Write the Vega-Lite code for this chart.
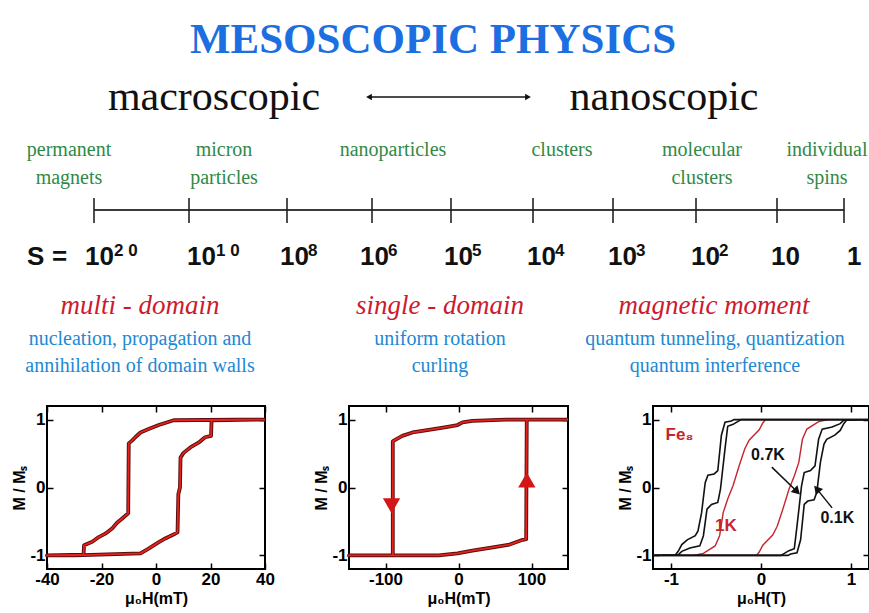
{
  "$schema": "https://vega.github.io/schema/vega-lite/v6.json",
  "padding": {"left": 10, "top": 0, "right": 0, "bottom": 0},
  "background": "white",
  "spacing": 0,
  "datasets": {
    "toptext": [
      {"g": "title", "t": "MESOSCOPIC PHYSICS", "x": 431, "y": 53},
      {"g": "scale", "t": "macroscopic", "x": 212, "y": 110},
      {"g": "scale", "t": "nanoscopic", "x": 662, "y": 110},
      {"g": "green", "t": "permanent", "x": 67, "y": 156},
      {"g": "green", "t": "magnets", "x": 67, "y": 184},
      {"g": "green", "t": "micron", "x": 222, "y": 156},
      {"g": "green", "t": "particles", "x": 222, "y": 184},
      {"g": "green", "t": "nanoparticles", "x": 391, "y": 156},
      {"g": "green", "t": "clusters", "x": 560, "y": 156},
      {"g": "green", "t": "molecular", "x": 700, "y": 156},
      {"g": "green", "t": "clusters", "x": 700, "y": 184},
      {"g": "green", "t": "individual", "x": 825, "y": 156},
      {"g": "green", "t": "spins", "x": 825, "y": 184},
      {"g": "S", "t": "S", "x": 25, "y": 265},
      {"g": "S", "t": "=", "x": 50, "y": 265},
      {"g": "S", "t": "10", "x": 83, "y": 265},
      {"g": "S", "t": "10", "x": 185, "y": 265},
      {"g": "S", "t": "10", "x": 278, "y": 265},
      {"g": "S", "t": "10", "x": 358, "y": 265},
      {"g": "S", "t": "10", "x": 442, "y": 265},
      {"g": "S", "t": "10", "x": 525, "y": 265},
      {"g": "S", "t": "10", "x": 606, "y": 265},
      {"g": "S", "t": "10", "x": 689, "y": 265},
      {"g": "S", "t": "10", "x": 769, "y": 265},
      {"g": "S", "t": "1", "x": 845, "y": 265},
      {"g": "exp", "t": "2 0", "x": 112, "y": 256},
      {"g": "exp", "t": "1 0", "x": 214, "y": 256},
      {"g": "exp", "t": "8", "x": 306, "y": 256},
      {"g": "exp", "t": "6", "x": 386, "y": 256},
      {"g": "exp", "t": "5", "x": 470, "y": 256},
      {"g": "exp", "t": "4", "x": 553, "y": 256},
      {"g": "exp", "t": "3", "x": 634, "y": 256},
      {"g": "exp", "t": "2", "x": 717, "y": 256},
      {"g": "red", "t": "multi - domain", "x": 138, "y": 314},
      {"g": "red", "t": "single - domain", "x": 438, "y": 314},
      {"g": "red", "t": "magnetic moment", "x": 712, "y": 314},
      {"g": "blue", "t": "nucleation, propagation and", "x": 138, "y": 345},
      {"g": "blue", "t": "uniform rotation", "x": 438, "y": 345},
      {"g": "blue", "t": "quantum tunneling, quantization", "x": 713, "y": 345},
      {"g": "blue", "t": "annihilation of domain walls", "x": 138, "y": 372},
      {"g": "blue", "t": "curling", "x": 438, "y": 372},
      {"g": "blue", "t": "quantum interference", "x": 713, "y": 372}
    ],
    "sline": [{"x": 92, "x2": 842, "y": 210}],
    "sticks": [
      {"x": 92, "y": 198, "y2": 223}, {"x": 187, "y": 198, "y2": 223},
      {"x": 285, "y": 198, "y2": 223}, {"x": 370, "y": 198, "y2": 223},
      {"x": 449, "y": 198, "y2": 223}, {"x": 531, "y": 198, "y2": 223},
      {"x": 611, "y": 198, "y2": 223}, {"x": 694, "y": 198, "y2": 223},
      {"x": 775, "y": 198, "y2": 223}, {"x": 842, "y": 198, "y2": 223}
    ],
    "arrow": [{"x": 366, "x2": 527, "y": 97}],
    "arrowhead": [{"x": 367, "y": 97, "d": "l"}, {"x": 526, "y": 97, "d": "r"}],
    "p1": [
      {"i": 1, "h": 40, "m": 1}, {"i": 2, "h": 30, "m": 1.0}, {"i": 3, "h": 6.5, "m": 0.99},
      {"i": 4, "h": 1, "m": 0.92}, {"i": 5, "h": -2.7, "m": 0.86}, {"i": 6, "h": -5.7, "m": 0.81},
      {"i": 7, "h": -7.6, "m": 0.74}, {"i": 8, "h": -8.8, "m": 0.69}, {"i": 9, "h": -10, "m": 0.65},
      {"i": 10, "h": -10.2, "m": -0.38}, {"i": 11, "h": -12.5, "m": -0.46}, {"i": 12, "h": -14.3, "m": -0.52},
      {"i": 13, "h": -16, "m": -0.6}, {"i": 14, "h": -18.6, "m": -0.68}, {"i": 15, "h": -21, "m": -0.73},
      {"i": 16, "h": -23.4, "m": -0.8}, {"i": 17, "h": -26.4, "m": -0.85}, {"i": 18, "h": -26.6, "m": -0.99},
      {"i": 19, "h": -40, "m": -1}, {"i": 20, "h": -30, "m": -1}, {"i": 21, "h": -5.7, "m": -0.97},
      {"i": 22, "h": -2.7, "m": -0.9}, {"i": 23, "h": 0, "m": -0.83}, {"i": 24, "h": 3.4, "m": -0.75},
      {"i": 25, "h": 7, "m": -0.68}, {"i": 26, "h": 7.9, "m": -0.66}, {"i": 27, "h": 8.2, "m": -0.1},
      {"i": 28, "h": 8.8, "m": 0.0}, {"i": 29, "h": 9.0, "m": 0.44}, {"i": 30, "h": 10.1, "m": 0.51},
      {"i": 31, "h": 12.6, "m": 0.59}, {"i": 32, "h": 15.6, "m": 0.66}, {"i": 33, "h": 18, "m": 0.74},
      {"i": 34, "h": 20.2, "m": 0.76}, {"i": 35, "h": 20.4, "m": 0.99}, {"i": 36, "h": 40, "m": 1}
    ],
    "p2": [
      {"i": 1, "h": 150, "m": 1}, {"i": 2, "h": 65, "m": 1}, {"i": 3, "h": 19, "m": 0.98},
      {"i": 4, "h": 5.5, "m": 0.96}, {"i": 5, "h": -1.4, "m": 0.92}, {"i": 6, "h": -17, "m": 0.89},
      {"i": 7, "h": -45, "m": 0.84}, {"i": 8, "h": -63, "m": 0.81}, {"i": 9, "h": -77, "m": 0.76},
      {"i": 10, "h": -88.5, "m": 0.69}, {"i": 11, "h": -90, "m": 0.68}, {"i": 12, "h": -90, "m": -1},
      {"i": 13, "h": -150, "m": -1}, {"i": 14, "h": -27, "m": -1}, {"i": 15, "h": -1.4, "m": -0.97},
      {"i": 16, "h": 19, "m": -0.93}, {"i": 17, "h": 47, "m": -0.88}, {"i": 18, "h": 70, "m": -0.84},
      {"i": 19, "h": 88, "m": -0.77}, {"i": 20, "h": 92.7, "m": -0.76}, {"i": 21, "h": 93.5, "m": 1},
      {"i": 22, "h": 150, "m": 1}
    ],
    "p2tri": [{"h": -91.7, "m": -0.27, "d": "down"}, {"h": 93.6, "m": 0.11, "d": "up"}],
    "p3": [
      {"T": "0.1K", "i": 1, "h": 1.2, "m": 1}, {"T": "0.1K", "i": 2, "h": -0.3, "m": 1},
      {"T": "0.1K", "i": 3, "h": -0.33, "m": 0.98}, {"T": "0.1K", "i": 4, "h": -0.4, "m": 0.96},
      {"T": "0.1K", "i": 5, "h": -0.44, "m": 0.77}, {"T": "0.1K", "i": 6, "h": -0.48, "m": 0.25},
      {"T": "0.1K", "i": 7, "h": -0.52, "m": 0.2}, {"T": "0.1K", "i": 8, "h": -0.59, "m": 0.18},
      {"T": "0.1K", "i": 9, "h": -0.62, "m": 0.07}, {"T": "0.1K", "i": 10, "h": -0.66, "m": -0.37},
      {"T": "0.1K", "i": 11, "h": -0.7, "m": -0.64}, {"T": "0.1K", "i": 12, "h": -0.73, "m": -0.71},
      {"T": "0.1K", "i": 13, "h": -0.82, "m": -0.77}, {"T": "0.1K", "i": 14, "h": -0.88, "m": -0.84},
      {"T": "0.1K", "i": 15, "h": -0.92, "m": -0.94}, {"T": "0.1K", "i": 16, "h": -0.95, "m": -0.99},
      {"T": "0.1K", "i": 17, "h": -1.2, "m": -1}, {"T": "0.1K", "i": 18, "h": 0.3, "m": -1},
      {"T": "0.1K", "i": 19, "h": 0.33, "m": -0.98}, {"T": "0.1K", "i": 20, "h": 0.4, "m": -0.96},
      {"T": "0.1K", "i": 21, "h": 0.44, "m": -0.77}, {"T": "0.1K", "i": 22, "h": 0.48, "m": -0.25},
      {"T": "0.1K", "i": 23, "h": 0.52, "m": -0.2}, {"T": "0.1K", "i": 24, "h": 0.59, "m": -0.18},
      {"T": "0.1K", "i": 25, "h": 0.62, "m": -0.07}, {"T": "0.1K", "i": 26, "h": 0.66, "m": 0.37},
      {"T": "0.1K", "i": 27, "h": 0.7, "m": 0.64}, {"T": "0.1K", "i": 28, "h": 0.73, "m": 0.71},
      {"T": "0.1K", "i": 29, "h": 0.82, "m": 0.77}, {"T": "0.1K", "i": 30, "h": 0.88, "m": 0.84},
      {"T": "0.1K", "i": 31, "h": 0.92, "m": 0.94}, {"T": "0.1K", "i": 32, "h": 0.95, "m": 0.99},
      {"T": "0.1K", "i": 33, "h": 1.2, "m": 1},
      {"T": "0.7K", "i": 1, "h": 1.2, "m": 1}, {"T": "0.7K", "i": 2, "h": -0.22, "m": 1},
      {"T": "0.7K", "i": 3, "h": -0.26, "m": 0.97}, {"T": "0.7K", "i": 4, "h": -0.31, "m": 0.93},
      {"T": "0.7K", "i": 5, "h": -0.37, "m": 0.9}, {"T": "0.7K", "i": 6, "h": -0.4, "m": 0.57},
      {"T": "0.7K", "i": 7, "h": -0.45, "m": -0.02}, {"T": "0.7K", "i": 8, "h": -0.48, "m": -0.22},
      {"T": "0.7K", "i": 9, "h": -0.55, "m": -0.25}, {"T": "0.7K", "i": 10, "h": -0.6, "m": -0.32},
      {"T": "0.7K", "i": 11, "h": -0.64, "m": -0.71}, {"T": "0.7K", "i": 12, "h": -0.68, "m": -0.86},
      {"T": "0.7K", "i": 13, "h": -0.79, "m": -0.89}, {"T": "0.7K", "i": 14, "h": -0.88, "m": -0.94},
      {"T": "0.7K", "i": 15, "h": -0.92, "m": -0.99}, {"T": "0.7K", "i": 16, "h": -1.2, "m": -1},
      {"T": "0.7K", "i": 17, "h": 0.22, "m": -1}, {"T": "0.7K", "i": 18, "h": 0.26, "m": -0.97},
      {"T": "0.7K", "i": 19, "h": 0.31, "m": -0.93}, {"T": "0.7K", "i": 20, "h": 0.37, "m": -0.9},
      {"T": "0.7K", "i": 21, "h": 0.4, "m": -0.57}, {"T": "0.7K", "i": 22, "h": 0.45, "m": 0.02},
      {"T": "0.7K", "i": 23, "h": 0.48, "m": 0.22}, {"T": "0.7K", "i": 24, "h": 0.55, "m": 0.25},
      {"T": "0.7K", "i": 25, "h": 0.6, "m": 0.32}, {"T": "0.7K", "i": 26, "h": 0.64, "m": 0.71},
      {"T": "0.7K", "i": 27, "h": 0.68, "m": 0.86}, {"T": "0.7K", "i": 28, "h": 0.79, "m": 0.89},
      {"T": "0.7K", "i": 29, "h": 0.88, "m": 0.94}, {"T": "0.7K", "i": 30, "h": 0.92, "m": 0.99},
      {"T": "0.7K", "i": 31, "h": 1.2, "m": 1},
      {"T": "1K", "i": 1, "h": 1.2, "m": 1}, {"T": "1K", "i": 2, "h": 0.05, "m": 1},
      {"T": "1K", "i": 3, "h": 0.02, "m": 0.95}, {"T": "1K", "i": 4, "h": -0.02, "m": 0.85},
      {"T": "1K", "i": 5, "h": -0.13, "m": 0.7}, {"T": "1K", "i": 6, "h": -0.18, "m": 0.57},
      {"T": "1K", "i": 7, "h": -0.24, "m": 0.33}, {"T": "1K", "i": 8, "h": -0.31, "m": 0.03},
      {"T": "1K", "i": 9, "h": -0.37, "m": -0.17}, {"T": "1K", "i": 10, "h": -0.42, "m": -0.37},
      {"T": "1K", "i": 11, "h": -0.46, "m": -0.71}, {"T": "1K", "i": 12, "h": -0.51, "m": -0.86},
      {"T": "1K", "i": 13, "h": -0.64, "m": -0.97}, {"T": "1K", "i": 14, "h": -0.75, "m": -1},
      {"T": "1K", "i": 15, "h": -1.2, "m": -1}, {"T": "1K", "i": 16, "h": -0.05, "m": -1},
      {"T": "1K", "i": 17, "h": -0.02, "m": -0.95}, {"T": "1K", "i": 18, "h": 0.02, "m": -0.85},
      {"T": "1K", "i": 19, "h": 0.13, "m": -0.7}, {"T": "1K", "i": 20, "h": 0.18, "m": -0.57},
      {"T": "1K", "i": 21, "h": 0.24, "m": -0.33}, {"T": "1K", "i": 22, "h": 0.31, "m": -0.03},
      {"T": "1K", "i": 23, "h": 0.37, "m": 0.17}, {"T": "1K", "i": 24, "h": 0.42, "m": 0.37},
      {"T": "1K", "i": 25, "h": 0.46, "m": 0.71}, {"T": "1K", "i": 26, "h": 0.51, "m": 0.86},
      {"T": "1K", "i": 27, "h": 0.64, "m": 0.97}, {"T": "1K", "i": 28, "h": 0.75, "m": 1},
      {"T": "1K", "i": 29, "h": 1.2, "m": 1}
    ],
    "p3txt": [
      {"t": "Fe₈", "h": -1.06, "m": 0.77, "c": "red"},
      {"t": "1K", "h": -0.51, "m": -0.57, "c": "red"},
      {"t": "0.7K", "h": -0.11, "m": 0.48, "c": "black"},
      {"t": "0.1K", "h": 0.66, "m": -0.45, "c": "black"}
    ],
    "p3arr": [
      {"a": "0.7K", "h": 0.12, "m": 0.3, "h2": 0.4, "m2": -0.06},
      {"a": "0.1K", "h": 0.79, "m": -0.3, "h2": 0.62, "m2": -0.02}
    ]
  },
  "vconcat": [
    {
      "width": 824,
      "height": 404,
      "view": {"stroke": null},
      "encoding": {
        "x": {"field": "x", "type": "quantitative", "scale": {"domain": [45, 869], "nice": false, "zero": false}, "axis": null},
        "y": {"field": "y", "type": "quantitative", "scale": {"domain": [0, 404], "reverse": true, "nice": false, "zero": false}, "axis": null}
      },
      "layer": [
        {"data": {"name": "sline"}, "mark": {"type": "rule", "color": "#3a3a3a", "strokeWidth": 2}, "encoding": {"x2": {"field": "x2"}}},
        {"data": {"name": "sticks"}, "mark": {"type": "rule", "color": "#222222", "strokeWidth": 1.6}, "encoding": {"y2": {"field": "y2"}}},
        {"data": {"name": "arrow"}, "mark": {"type": "rule", "color": "#111111", "strokeWidth": 1.5}, "encoding": {"x2": {"field": "x2"}}},
        {"data": {"name": "arrowhead"}, "transform": [{"filter": "datum.d === 'l'"}],
         "mark": {"type": "point", "shape": "triangle-left", "filled": true, "color": "#111111", "size": 45, "opacity": 1}},
        {"data": {"name": "arrowhead"}, "transform": [{"filter": "datum.d === 'r'"}],
         "mark": {"type": "point", "shape": "triangle-right", "filled": true, "color": "#111111", "size": 45, "opacity": 1}},
        {"data": {"name": "toptext"}, "transform": [{"filter": "datum.g === 'title'"}],
         "mark": {"type": "text", "font": "Liberation Serif", "fontWeight": "bold", "fontSize": 43, "color": "#1b6fe0", "align": "center", "baseline": "alphabetic"},
         "encoding": {"text": {"field": "t"}}},
        {"data": {"name": "toptext"}, "transform": [{"filter": "datum.g === 'scale'"}],
         "mark": {"type": "text", "font": "Liberation Serif", "fontSize": 42, "color": "#111111", "align": "center", "baseline": "alphabetic"},
         "encoding": {"text": {"field": "t"}}},
        {"data": {"name": "toptext"}, "transform": [{"filter": "datum.g === 'green'"}],
         "mark": {"type": "text", "font": "Liberation Serif", "fontSize": 20, "color": "#2f8a46", "align": "center", "baseline": "alphabetic"},
         "encoding": {"text": {"field": "t"}}},
        {"data": {"name": "toptext"}, "transform": [{"filter": "datum.g === 'S'"}],
         "mark": {"type": "text", "font": "Liberation Sans", "fontWeight": "bold", "fontSize": 26, "color": "#111111", "align": "left", "baseline": "alphabetic"},
         "encoding": {"text": {"field": "t"}}},
        {"data": {"name": "toptext"}, "transform": [{"filter": "datum.g === 'exp'"}],
         "mark": {"type": "text", "font": "Liberation Sans", "fontWeight": "bold", "fontSize": 17, "color": "#111111", "align": "left", "baseline": "alphabetic"},
         "encoding": {"text": {"field": "t"}}},
        {"data": {"name": "toptext"}, "transform": [{"filter": "datum.g === 'red'"}],
         "mark": {"type": "text", "font": "Liberation Serif", "fontStyle": "italic", "fontSize": 27, "color": "#cc1a2e", "align": "center", "baseline": "alphabetic"},
         "encoding": {"text": {"field": "t"}}},
        {"data": {"name": "toptext"}, "transform": [{"filter": "datum.g === 'blue'"}],
         "mark": {"type": "text", "font": "Liberation Serif", "fontSize": 20, "color": "#2188d4", "align": "center", "baseline": "alphabetic"},
         "encoding": {"text": {"field": "t"}}}
      ]
    },
    {
      "spacing": 45,
      "hconcat": [
        {
          "spacing": 36,
          "hconcat": [
            {
              "width": 218,
              "height": 163,
              "view": {"stroke": "black", "strokeWidth": 2},
              "data": {"name": "p1"},
              "encoding": {"order": {"field": "i", "type": "quantitative"}},
              "layer": [
                {"mark": {"type": "line", "color": "#5a0d0d", "strokeWidth": 3.8, "strokeJoin": "round"},
                 "encoding": {
                   "x": {"field": "h", "type": "quantitative", "scale": {"domain": [-40, 40], "nice": false, "zero": false},
                         "axis": {"orient": "bottom", "values": [-40, -20, 0, 20, 40], "title": "μ₀H(mT)", "labelPadding": 8, "titlePadding": 3, "labelExpr": "datum.value < 0 ? '-' + (-datum.value) : '' + datum.value"}},
                   "y": {"field": "m", "type": "quantitative", "scale": {"domain": [-1.2, 1.2], "nice": false, "zero": false},
                         "axis": {"orient": "left", "values": [-1, 0, 1], "title": "M / Mₛ", "labelPadding": 8, "titlePadding": 2, "labelExpr": "datum.value < 0 ? '-' + (-datum.value) : '' + datum.value"}}
                 }},
                {"mark": {"type": "line", "color": "#e4231e", "strokeWidth": 1.8, "strokeJoin": "round"},
                 "encoding": {
                   "x": {"field": "h", "type": "quantitative", "scale": {"domain": [-40, 40], "nice": false, "zero": false},
                         "axis": {"orient": "top", "values": [-40, -20, 0, 20, 40], "labels": false, "title": null}},
                   "y": {"field": "m", "type": "quantitative", "scale": {"domain": [-1.2, 1.2], "nice": false, "zero": false},
                         "axis": {"orient": "right", "values": [-1, 0, 1], "labels": false, "title": null}}
                 }}
              ],
              "resolve": {"axis": {"x": "independent", "y": "independent"}}
            },
            {
              "width": 219,
              "height": 163,
              "view": {"stroke": "black", "strokeWidth": 2},
              "layer": [
                {"data": {"name": "p2"}, "mark": {"type": "line", "color": "#5a0d0d", "strokeWidth": 3.8, "strokeJoin": "round"},
                 "encoding": {
                   "order": {"field": "i", "type": "quantitative"},
                   "x": {"field": "h", "type": "quantitative", "scale": {"domain": [-150, 150], "nice": false, "zero": false},
                         "axis": {"orient": "bottom", "values": [-100, 0, 100], "title": "μ₀H(mT)", "labelPadding": 8, "titlePadding": 3, "labelExpr": "datum.value < 0 ? '-' + (-datum.value) : '' + datum.value"}},
                   "y": {"field": "m", "type": "quantitative", "scale": {"domain": [-1.2, 1.2], "nice": false, "zero": false},
                         "axis": {"orient": "left", "values": [-1, 0, 1], "title": "M / Mₛ", "labelPadding": 8, "titlePadding": 2, "labelExpr": "datum.value < 0 ? '-' + (-datum.value) : '' + datum.value"}}
                 }},
                {"data": {"name": "p2"}, "mark": {"type": "line", "color": "#e4231e", "strokeWidth": 1.8, "strokeJoin": "round"},
                 "encoding": {
                   "order": {"field": "i", "type": "quantitative"},
                   "x": {"field": "h", "type": "quantitative", "scale": {"domain": [-150, 150], "nice": false, "zero": false},
                         "axis": {"orient": "top", "values": [-100, 0, 100], "labels": false, "title": null}},
                   "y": {"field": "m", "type": "quantitative", "scale": {"domain": [-1.2, 1.2], "nice": false, "zero": false},
                         "axis": {"orient": "right", "values": [-1, 0, 1], "labels": false, "title": null}}
                 }},
                {"data": {"name": "p2tri"}, "transform": [{"filter": "datum.d === 'down'"}],
                 "mark": {"type": "point", "shape": "triangle-down", "filled": true, "color": "#d41616", "size": 300, "opacity": 1},
                 "encoding": {
                   "x": {"field": "h", "type": "quantitative", "scale": {"domain": [-150, 150], "nice": false, "zero": false}, "axis": null},
                   "y": {"field": "m", "type": "quantitative", "scale": {"domain": [-1.2, 1.2], "nice": false, "zero": false}, "axis": null}
                 }},
                {"data": {"name": "p2tri"}, "transform": [{"filter": "datum.d === 'up'"}],
                 "mark": {"type": "point", "shape": "triangle-up", "filled": true, "color": "#d41616", "size": 300, "opacity": 1},
                 "encoding": {
                   "x": {"field": "h", "type": "quantitative", "scale": {"domain": [-150, 150], "nice": false, "zero": false}, "axis": null},
                   "y": {"field": "m", "type": "quantitative", "scale": {"domain": [-1.2, 1.2], "nice": false, "zero": false}, "axis": null}
                 }}
              ],
              "resolve": {"axis": {"x": "independent", "y": "independent"}}
            }
          ]
        },
        {
          "width": 216,
          "height": 163,
          "view": {"stroke": "black", "strokeWidth": 2},
          "layer": [
            {"data": {"name": "p3"}, "transform": [{"filter": "datum.T === '1K'"}],
             "mark": {"type": "line", "color": "#c4262c", "strokeWidth": 1.4},
             "encoding": {
               "order": {"field": "i", "type": "quantitative"},
               "x": {"field": "h", "type": "quantitative", "scale": {"domain": [-1.2, 1.2], "nice": false, "zero": false},
                     "axis": {"orient": "bottom", "values": [-1, 0, 1], "title": "μ₀H(T)", "labelPadding": 8, "titlePadding": 3, "labelExpr": "datum.value < 0 ? '-' + (-datum.value) : '' + datum.value"}},
               "y": {"field": "m", "type": "quantitative", "scale": {"domain": [-1.2, 1.2], "nice": false, "zero": false},
                     "axis": {"orient": "left", "values": [-1, 0, 1], "title": "M / Mₛ", "labelPadding": 8, "titlePadding": 2, "labelExpr": "datum.value < 0 ? '-' + (-datum.value) : '' + datum.value"}}
             }},
            {"data": {"name": "p3"}, "transform": [{"filter": "datum.T !== '1K'"}],
             "mark": {"type": "line", "color": "#111111", "strokeWidth": 1.6},
             "encoding": {
               "order": {"field": "i", "type": "quantitative"},
               "detail": {"field": "T", "type": "nominal"},
               "x": {"field": "h", "type": "quantitative", "scale": {"domain": [-1.2, 1.2], "nice": false, "zero": false},
                     "axis": {"orient": "top", "values": [-1, 0, 1], "labels": false, "title": null}},
               "y": {"field": "m", "type": "quantitative", "scale": {"domain": [-1.2, 1.2], "nice": false, "zero": false},
                     "axis": {"orient": "right", "values": [-1, 0, 1], "labels": false, "title": null}}
             }},
            {"data": {"name": "p3txt"}, "transform": [{"filter": "datum.c === 'red'"}],
             "mark": {"type": "text", "font": "Liberation Sans", "fontWeight": "bold", "fontSize": 17, "color": "#c4262c", "align": "left", "baseline": "middle"},
             "encoding": {
               "text": {"field": "t"},
               "x": {"field": "h", "type": "quantitative", "scale": {"domain": [-1.2, 1.2], "nice": false, "zero": false}, "axis": null},
               "y": {"field": "m", "type": "quantitative", "scale": {"domain": [-1.2, 1.2], "nice": false, "zero": false}, "axis": null}
             }},
            {"data": {"name": "p3txt"}, "transform": [{"filter": "datum.c === 'black'"}],
             "mark": {"type": "text", "font": "Liberation Sans", "fontWeight": "bold", "fontSize": 16, "color": "#111111", "align": "left", "baseline": "middle"},
             "encoding": {
               "text": {"field": "t"},
               "x": {"field": "h", "type": "quantitative", "scale": {"domain": [-1.2, 1.2], "nice": false, "zero": false}, "axis": null},
               "y": {"field": "m", "type": "quantitative", "scale": {"domain": [-1.2, 1.2], "nice": false, "zero": false}, "axis": null}
             }},
            {"data": {"name": "p3arr"},
             "mark": {"type": "rule", "color": "#111111", "strokeWidth": 1.5},
             "encoding": {
               "x": {"field": "h", "type": "quantitative", "scale": {"domain": [-1.2, 1.2], "nice": false, "zero": false}, "axis": null},
               "y": {"field": "m", "type": "quantitative", "scale": {"domain": [-1.2, 1.2], "nice": false, "zero": false}, "axis": null},
               "x2": {"field": "h2"},
               "y2": {"field": "m2"}
             }},
            {"data": {"name": "p3arr"}, "transform": [{"filter": "datum.a === '0.7K'"}],
             "mark": {"type": "point", "shape": "triangle-up", "filled": true, "color": "#111111", "size": 90, "angle": 135, "opacity": 1},
             "encoding": {
               "x": {"field": "h2", "type": "quantitative", "scale": {"domain": [-1.2, 1.2], "nice": false, "zero": false}, "axis": null},
               "y": {"field": "m2", "type": "quantitative", "scale": {"domain": [-1.2, 1.2], "nice": false, "zero": false}, "axis": null}
             }},
            {"data": {"name": "p3arr"}, "transform": [{"filter": "datum.a === '0.1K'"}],
             "mark": {"type": "point", "shape": "triangle-up", "filled": true, "color": "#111111", "size": 90, "angle": 320, "opacity": 1},
             "encoding": {
               "x": {"field": "h2", "type": "quantitative", "scale": {"domain": [-1.2, 1.2], "nice": false, "zero": false}, "axis": null},
               "y": {"field": "m2", "type": "quantitative", "scale": {"domain": [-1.2, 1.2], "nice": false, "zero": false}, "axis": null}
             }}
          ],
          "resolve": {"axis": {"x": "independent", "y": "independent"}}
        }
      ]
    }
  ],
  "config": {
    "font": "Liberation Sans",
    "axis": {
      "grid": false,
      "domain": false,
      "tickColor": "black",
      "tickWidth": 1.5,
      "tickSize": -6,
      "labelFont": "Liberation Sans",
      "labelFontWeight": "bold",
      "labelFontSize": 17,
      "labelColor": "black",
      "titleFont": "Liberation Sans",
      "titleFontWeight": "bold",
      "titleFontSize": 16,
      "titleColor": "black",
      "labelFlush": false,
      "labelOverlap": false
    }
  }
}
